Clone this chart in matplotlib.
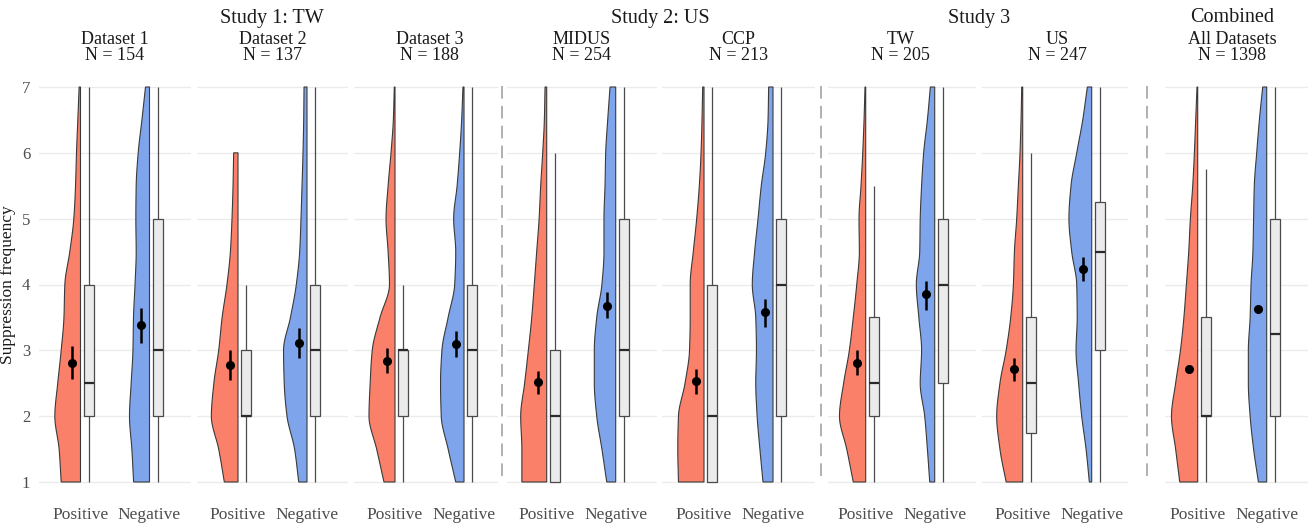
import numpy as np
import matplotlib
matplotlib.use("Agg")
import matplotlib.pyplot as plt
from matplotlib.patches import Polygon, Rectangle
from matplotlib.lines import Line2D

plt.rcParams['font.family'] = ['Liberation Serif', 'DejaVu Serif']

# ---------------- data ----------------
panel_names = ["Dataset 1", "Dataset 2", "Dataset 3", "MIDUS", "CCP", "TW", "US", "All Datasets"]
panel_n = [154, 137, 188, 254, 213, 205, 247, 1398]
study_titles = ["Study 1: TW", "Study 2: US", "Study 3", "Combined"]
study_groups = [[0, 1, 2], [3, 4], [5, 6], [7]]
conditions = ["Positive", "Negative"]

# boxplot stats
pos_q1 = [2, 2, 2, 1, 1, 2, 1.75, 2]
pos_med = [2.5, 2, 3, 2, 2, 2.5, 2.5, 2]
pos_q3 = [4, 3, 3, 3, 4, 3.5, 3.5, 3.5]
pos_lo = [1, 1, 1, 1, 1, 1, 1, 1]
pos_hi = [7, 4, 4, 6, 7, 5.5, 6, 5.75]
neg_q1 = [2, 2, 2, 2, 2, 2.5, 3, 2]
neg_med = [3, 3, 3, 3, 4, 4, 4.5, 3.25]
neg_q3 = [5, 4, 4, 5, 5, 5, 5.25, 5]
neg_lo = [1, 1, 1, 1, 1, 1, 1, 1]
neg_hi = [7, 7, 7, 7, 7, 7, 7, 7]

# means with confidence intervals
pos_mean = [2.81, 2.77, 2.84, 2.52, 2.53, 2.81, 2.71, 2.71]
pos_ci_lo = [2.57, 2.55, 2.66, 2.34, 2.34, 2.62, 2.53, 2.65]
pos_ci_hi = [3.06, 3.00, 3.03, 2.68, 2.72, 3.00, 2.88, 2.76]
neg_mean = [3.38, 3.11, 3.10, 3.67, 3.58, 3.85, 4.24, 3.63]
neg_ci_lo = [3.11, 2.88, 2.90, 3.49, 3.36, 3.62, 4.06, 3.56]
neg_ci_hi = [3.65, 3.34, 3.30, 3.88, 3.78, 4.05, 4.42, 3.69]

# half-violin widths read at y = 1, 1.5, 2, ... (x-axis units)
pos_violin = [
    [0.28, 0.31, 0.372, 0.33, 0.28, 0.24, 0.227, 0.155, 0.097, 0.072, 0.058, 0.039, 0.02],
    [0.198, 0.28, 0.386, 0.35, 0.28, 0.23, 0.16, 0.11, 0.087, 0.072, 0.063],
    [0.16, 0.266, 0.377, 0.36, 0.33, 0.217, 0.08, 0.10, 0.13, 0.10, 0.058, 0.024, 0.01],
    [0.36, 0.36, 0.377, 0.32, 0.266, 0.217, 0.18, 0.145, 0.11, 0.087, 0.058, 0.034, 0.024],
    [0.37, 0.38, 0.37, 0.275, 0.21, 0.20, 0.20, 0.155, 0.106, 0.068, 0.043, 0.029, 0.019],
    [0.18, 0.275, 0.38, 0.32, 0.237, 0.18, 0.13, 0.092, 0.097, 0.068, 0.043, 0.024, 0.01],
    [0.24, 0.33, 0.377, 0.33, 0.24, 0.174, 0.135, 0.12, 0.087, 0.063, 0.039, 0.024, 0.014],
    [0.26, 0.32, 0.38, 0.32, 0.25, 0.20, 0.164, 0.13, 0.106, 0.072, 0.048, 0.029, 0.01],
]
neg_violin = [
    [0.23, 0.256, 0.29, 0.266, 0.24, 0.232, 0.21, 0.193, 0.198, 0.193, 0.164, 0.11, 0.058],
    [0.12, 0.18, 0.29, 0.33, 0.34, 0.24, 0.155, 0.106, 0.087, 0.072, 0.058, 0.048, 0.043],
    [0.12, 0.23, 0.33, 0.34, 0.32, 0.23, 0.135, 0.12, 0.15, 0.10, 0.063, 0.034, 0.015],
    [0.13, 0.20, 0.275, 0.31, 0.31, 0.275, 0.20, 0.17, 0.17, 0.155, 0.145, 0.116, 0.082],
    [0.145, 0.19, 0.23, 0.25, 0.24, 0.25, 0.30, 0.266, 0.217, 0.17, 0.106, 0.072, 0.063],
    [0.072, 0.106, 0.145, 0.21, 0.19, 0.23, 0.266, 0.217, 0.21, 0.19, 0.16, 0.106, 0.063],
    [0.034, 0.082, 0.145, 0.19, 0.227, 0.21, 0.217, 0.29, 0.33, 0.30, 0.217, 0.13, 0.063],
    [0.12, 0.19, 0.24, 0.266, 0.266, 0.24, 0.227, 0.20, 0.19, 0.18, 0.145, 0.106, 0.058],
]
violin_y_start = 1.0
violin_y_step = 0.5

# ---------------- layout (pixels) ----------------
W, H = 1310, 524
panel_left_px = [38.5, 197, 354, 507, 662, 828, 982, 1165]
panel_right_px = [191, 348, 497.7, 657, 815, 976, 1128, 1308]
panel_pos_px = [80.5, 238, 395, 546.7, 704, 865.7, 1022.7, 1197.7]
unit_px = 69.0
y7_px, y1_px = 87.0, 482.0
ylo, yhi = 0.7, 7.3
dash_x_px = [501.7, 820.7, 1146.7]

RED = "#FB806A"
BLUE = "#7EA5EC"
BOXFILL = "#EBEBEB"
EDGE = "#3A3A3A"
BOXEDGE = "#4A4A4A"

def pchip(x, y, xi):
    x = np.asarray(x, float); y = np.asarray(y, float)
    h = np.diff(x); delta = np.diff(y) / h
    n = len(x)
    d = np.zeros(n)
    for k in range(1, n - 1):
        if delta[k - 1] * delta[k] > 0:
            w1 = 2 * h[k] + h[k - 1]
            w2 = h[k] + 2 * h[k - 1]
            d[k] = (w1 + w2) / (w1 / delta[k - 1] + w2 / delta[k])
    d[0] = delta[0]; d[-1] = delta[-1]
    idx = np.clip(np.searchsorted(x, xi) - 1, 0, n - 2)
    t = (xi - x[idx]) / h[idx]
    h00 = 2 * t**3 - 3 * t**2 + 1
    h10 = t**3 - 2 * t**2 + t
    h01 = -2 * t**3 + 3 * t**2
    h11 = t**3 - t**2
    return h00 * y[idx] + h10 * h[idx] * d[idx] + h01 * y[idx + 1] + h11 * h[idx] * d[idx + 1]

fig = plt.figure(figsize=(W / 100, H / 100), dpi=100)
ppu = (y1_px - y7_px) / 6.0
top_px = y7_px - (yhi - 7) * ppu
bot_px = y1_px + (1 - ylo) * ppu

mean_off, box_off, box_w = -0.12, 0.12, 0.15

for i in range(len(panel_names)):
    L, R = panel_left_px[i], panel_right_px[i]
    p1 = panel_pos_px[i]
    p2 = p1 + unit_px
    ax = fig.add_axes([L / W, (H - bot_px) / H, (R - L) / W, (bot_px - top_px) / H])
    ax.set_xlim(1 - (p1 - L) / unit_px, 2 + (R - p2) / unit_px)
    ax.set_ylim(ylo, yhi)
    for s in ax.spines.values():
        s.set_visible(False)
    ax.set_yticks([1, 2, 3, 4, 5, 6, 7])
    ax.grid(axis='y', color='#EBEBEB', lw=1.0)
    ax.set_axisbelow(True)
    ax.tick_params(length=0)
    ax.set_xticks([1, 2])
    ax.set_xticklabels(conditions, fontsize=12.5, color='#4D4D4D')
    ax.tick_params(axis='x', pad=4)
    if i == 0:
        ax.tick_params(axis='y', labelsize=12, labelcolor='#4D4D4D', pad=6)
        ax.set_ylabel("Suppression frequency", fontsize=12.5, color='#1A1A1A', labelpad=4)
    else:
        ax.set_yticklabels([])

    groups = [
        (1, pos_violin[i], RED, pos_q1[i], pos_med[i], pos_q3[i], pos_lo[i], pos_hi[i],
         pos_mean[i], pos_ci_lo[i], pos_ci_hi[i]),
        (2, neg_violin[i], BLUE, neg_q1[i], neg_med[i], neg_q3[i], neg_lo[i], neg_hi[i],
         neg_mean[i], neg_ci_lo[i], neg_ci_hi[i]),
    ]
    for (xc, widths, col, q1, med, q3, lo, hi, mu, clo, chi) in groups:
        ys = violin_y_start + violin_y_step * np.arange(len(widths))
        yy = np.linspace(ys[0], ys[-1], 300)
        ww = np.clip(pchip(ys, widths, yy), 0.003, None)
        verts = np.column_stack([np.r_[xc - ww, xc, xc], np.r_[yy, yy[-1], yy[0]]])
        ax.add_patch(Polygon(verts, closed=True, facecolor=col, edgecolor=EDGE,
                             lw=0.8, zorder=2))
        bx = xc + box_off
        ax.plot([bx, bx], [lo, q1], color=BOXEDGE, lw=0.9, zorder=3, solid_capstyle='butt')
        ax.plot([bx, bx], [q3, hi], color=BOXEDGE, lw=0.9, zorder=3, solid_capstyle='butt')
        ax.add_patch(Rectangle((bx - box_w / 2, q1), box_w, q3 - q1, facecolor=BOXFILL,
                               edgecolor=BOXEDGE, lw=0.9, zorder=3))
        ax.plot([bx - box_w / 2, bx + box_w / 2], [med, med], color='#2A2A2A', lw=1.6,
                zorder=4, solid_capstyle='butt')
        mx = xc + mean_off
        ax.plot([mx, mx], [clo, chi], color='black', lw=1.8, zorder=5, solid_capstyle='butt')
        ax.plot([mx], [mu], 'o', color='black', ms=5.5, zorder=6)

    cx = (p1 + p2) / 2 / W
    fig.text(cx, 1 - 39 / H, panel_names[i], ha='center', va='center', fontsize=13, color='#1A1A1A')
    fig.text(cx, 1 - 56 / H, "N = %d" % panel_n[i], ha='center', va='center', fontsize=13, color='#1A1A1A')

for title, grp in zip(study_titles, study_groups):
    a = panel_pos_px[grp[0]] + unit_px / 2
    b = panel_pos_px[grp[-1]] + unit_px / 2
    fig.text((a + b) / 2 / W, 1 - 18 / H, title, ha='center', va='center', fontsize=14.5, color='#1A1A1A')

for xd in dash_x_px:
    fig.add_artist(Line2D([xd / W, xd / W], [1 - 86 / H, 1 - 482 / H], color='#AAAAAA',
                          lw=1.3, dashes=(7, 4)))

fig.savefig("out.png", dpi=100)
